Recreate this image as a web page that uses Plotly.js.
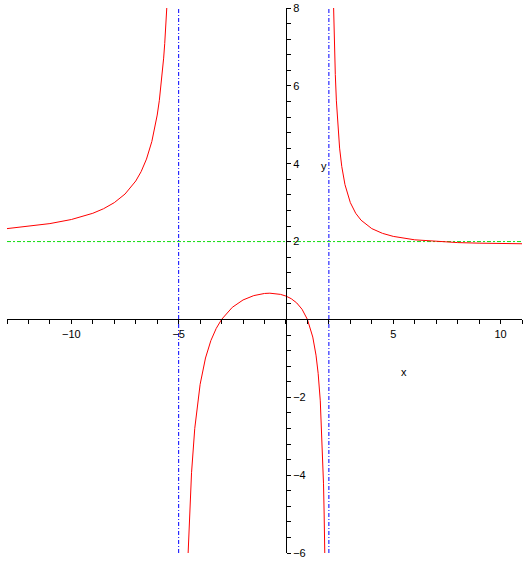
<!DOCTYPE html>
<html>
<head>
<meta charset="utf-8">
<script src="https://cdn.plot.ly/plotly-3.0.1.min.js"></script>
<style>html,body{margin:0;padding:0;background:#fff;}#plot{width:530px;height:561px;}</style>
</head>
<body>
<div id="plot"></div>
<script>
// Left branch (x < -5)
var branch1X = [-13,-12,-11,-10,-9,-8.5,-8,-7.5,-7,-6.75,-6.5,-6.25,-6,-5.9,-5.8,-5.7,-5.65,-5.6,-5.554];
var branch1Y = [2.333,2.388,2.462,2.567,2.727,2.844,3.0,3.221,3.556,3.796,4.118,4.570,5.25,5.629,6.103,6.712,7.088,7.526,8.0];
// Middle branch (-5 < x < 2)
var branch2X = [-4.559,-4.5,-4.45,-4.4,-4.25,-4.1,-4,-3.75,-3.5,-3.25,-3,-2.5,-2,-1.5,-1.25,-1,-0.75,-0.5,-0.25,0,0.25,0.5,0.75,1,1.25,1.4,1.5,1.6,1.7,1.75,1.78,1.8,1.809];
var branch2Y = [-6,-5.077,-4.455,-3.938,-2.8,-2.044,-1.667,-0.991,-0.545,-0.231,0,0.311,0.5,0.612,0.646,0.667,0.674,0.667,0.643,0.6,0.531,0.424,0.261,0,-0.453,-0.917,-1.385,-2.091,-3.274,-4.222,-4.999,-5.647,-6];
// Right branch (x > 2)
var branch3X = [2.221,2.25,2.3,2.35,2.4,2.5,2.6,2.75,3,3.25,3.5,4,4.5,5,6,7,8,9,10,11];
var branch3Y = [8,7.241,6.292,5.615,5.108,4.4,3.930,3.462,3.0,2.727,2.549,2.333,2.211,2.133,2.045,2.0,1.974,1.959,1.95,1.944];
// Asymptotes
var vertAsymX = [-5, 2];
var horizAsymY = 2;
var xRange = [-13, 11];
var yRange = [-6, 8];
// Ticks
var xTickVals = [-10, -5, 5, 10];
var xTickText = ['\u221210', '\u22125', '5', '10'];
var yTickVals = [-6, -4, -2, 2, 4, 6, 8];
var yTickText = ['\u22126', '\u22124', '\u22122', '2', '4', '6', '8'];
var xMinor = [];
for (var i = -13; i <= 11; i++) xMinor.push(i);
var yMinor = [];
for (var j = -15; j <= 20; j++) yMinor.push(+(j * 0.4).toFixed(1));

var redLine = {color: '#ff0000', width: 1};
var traces = [];
traces.push({x: [xRange[0], xRange[1]], y: [horizAsymY, horizAsymY], mode: 'lines', line: {color: '#11dd11', width: 1, dash: '4px,2px,2px,2px'}, hoverinfo: 'skip'});
vertAsymX.forEach(function (vx) {
  traces.push({x: [vx, vx], y: [yRange[0], yRange[1]], mode: 'lines', line: {color: '#0000ff', width: 1, dash: '4px,2px,1px,2px'}, hoverinfo: 'skip'});
});
traces.push({x: branch1X, y: branch1Y, mode: 'lines', line: redLine});
traces.push({x: branch2X, y: branch2Y, mode: 'lines', line: redLine});
traces.push({x: branch3X, y: branch3Y, mode: 'lines', line: redLine});

var tickFont = {family: 'Liberation Sans, Arial, sans-serif', size: 11, color: '#000'};
var layout = {
  width: 530, height: 561,
  margin: {l: 7, r: 8, t: 8, b: 8, pad: 0},
  paper_bgcolor: '#fff', plot_bgcolor: '#fff',
  showlegend: false,
  xaxis: {
    range: xRange, anchor: 'free', position: (0 - yRange[0]) / (yRange[1] - yRange[0]),
    showgrid: false, zeroline: false, showline: true, linecolor: '#000', linewidth: 1,
    tickmode: 'array', tickvals: xTickVals, ticktext: xTickText,
    ticks: 'outside', ticklen: 4, tickcolor: '#000', tickwidth: 1, tickfont: tickFont,
    minor: {tickmode: 'array', tickvals: xMinor, ticks: 'outside', ticklen: 4, tickcolor: '#000', tickwidth: 1, showgrid: false}
  },
  yaxis: {
    range: yRange, anchor: 'free', side: 'right', position: (0 - xRange[0]) / (xRange[1] - xRange[0]),
    showgrid: false, zeroline: false, showline: true, linecolor: '#000', linewidth: 1,
    tickmode: 'array', tickvals: yTickVals, ticktext: yTickText,
    ticks: 'outside', ticklen: 4, tickcolor: '#000', tickwidth: 1, tickfont: tickFont,
    minor: {tickmode: 'array', tickvals: yMinor, ticks: 'outside', ticklen: 4, tickcolor: '#000', tickwidth: 1, showgrid: false}
  },
  annotations: [
    {x: 5.5, y: -1.36, xref: 'x', yref: 'y', text: 'x', showarrow: false, font: tickFont},
    {x: 1.78, y: 3.93, xref: 'x', yref: 'y', text: 'y', showarrow: false, font: tickFont}
  ]
};
Plotly.newPlot('plot', traces, layout, {displayModeBar: false, staticPlot: true});
</script>
</body>
</html>
